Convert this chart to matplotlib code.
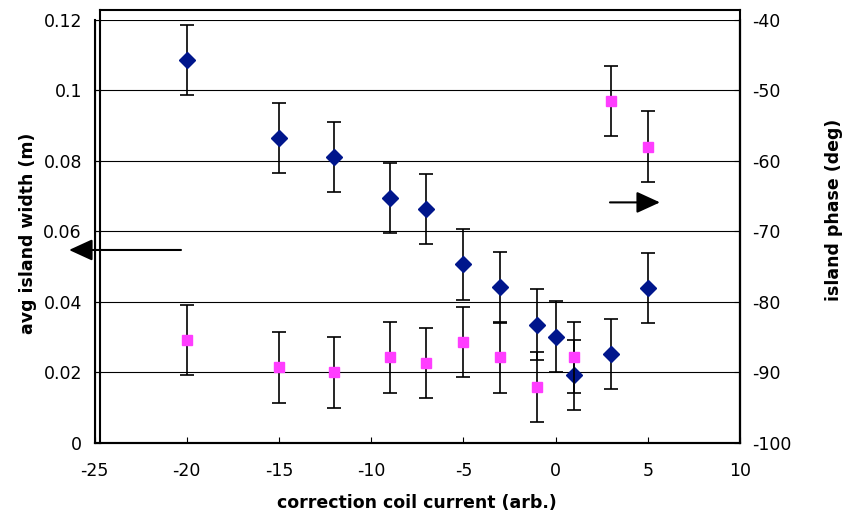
import matplotlib
matplotlib.use('Agg')
import matplotlib.pyplot as plt
from matplotlib.lines import Line2D

# coil current settings (arb.)
current_w = [-20, -15, -12, -9, -7, -5, -3, -1, 0, 1, 3, 5]
width_m = [0.1086, 0.0864, 0.0811, 0.0694, 0.0663, 0.0506, 0.0441, 0.0335, 0.0301, 0.0192, 0.0252, 0.0439]
width_err = [0.01] * len(width_m)

current_p = [-20, -15, -12, -9, -7, -5, -3, -1, 1, 3, 5]
phase_deg = [-85.4, -89.3, -90.0, -87.9, -88.7, -85.7, -87.9, -92.1, -87.9, -51.5, -58.0]
phase_err = [5] * len(phase_deg)

left_ticks = [0, 0.02, 0.04, 0.06, 0.08, 0.1, 0.12]
right_ticks = [-100, -90, -80, -70, -60, -50, -40]
x_ticks = [-25, -20, -15, -10, -5, 0, 5, 10]

navy = '#00168C'
pink = '#FF3DFF'

plt.rcParams['font.family'] = 'DejaVu Sans'

fig = plt.figure(figsize=(8.51, 5.17), dpi=100)
W, H = 851, 517
x0, x1, y0, y1 = 94.5, 740, 19.8, 442.8
ax = fig.add_axes([x0 / W, 1 - y1 / H, (x1 - x0) / W, (y1 - y0) / H])
ax2 = ax.twinx()

for y in left_ticks[1:]:
    ax.axhline(y, color='black', lw=0.8, zorder=0)

ax.errorbar(current_w, width_m, yerr=width_err, fmt='D', ms=8.5, color=navy,
            mec=navy, ecolor='black', elinewidth=1.2, capsize=5, capthick=1.2, zorder=3)
ax2.errorbar(current_p, phase_deg, yerr=phase_err, fmt='s', ms=7, color=pink,
             mec=pink, ecolor='black', elinewidth=1.2, capsize=5, capthick=1.2, zorder=3)

ax.set_xlim(-25, 10)
ax.set_ylim(0, 0.12)
ax2.set_ylim(-100, -40)
ax.set_xticks(x_ticks)
ax.set_xticklabels([str(v) for v in x_ticks])
ax.set_yticks(left_ticks)
ax.set_yticklabels([f'{v:g}' for v in left_ticks])
ax2.set_yticks(right_ticks)
ax2.set_yticklabels([str(v) for v in right_ticks])

for a in (ax, ax2):
    a.tick_params(direction='in', length=4, width=0.8, labelsize=12.5, pad=9)
    for s in a.spines.values():
        s.set_linewidth(1.5)
    a.spines['top'].set_visible(False)
ax.spines['left'].set_linewidth(0.8)
ax.tick_params(axis='x', pad=14)

ax.set_xlabel('correction coil current (arb.)', fontsize=12.5, fontweight='bold', va='center')
ax.xaxis.set_label_coords(0.5, (y1 - 503) / (y1 - y0))
ax.set_ylabel('avg island width (m)', fontsize=12.5, fontweight='bold', va='center', ha='center')
ax.yaxis.set_label_coords((28 - x0) / (x1 - x0), (y1 - 233) / (y1 - y0))
ax2.set_ylabel('island phase (deg)', fontsize=12.5, fontweight='bold', rotation=90,
               va='center', ha='center')
ax2.yaxis.set_label_coords((834 - x0) / (x1 - x0), (y1 - 210) / (y1 - y0))

# outer plot-area frame (offset from the value axis)
fx0, fy_top = 100 / W, 1 - 10 / H
fig.add_artist(Line2D([fx0, fx0], [1 - y1 / H, fy_top], color='black', lw=1.5))
fig.add_artist(Line2D([fx0, x1 / W], [fy_top, fy_top], color='black', lw=1.5))
fig.add_artist(Line2D([x1 / W, x1 / W], [1 - y1 / H, fy_top], color='black', lw=1.5))

# arrows pointing to the axis each series belongs to
arrow_style = dict(arrowstyle='-|>,head_length=0.72,head_width=0.33', mutation_scale=20,
                   color='black', lw=1.5, shrinkA=0, shrinkB=0)
ax.annotate('', xy=(-26.38, 0.0547), xytext=(-20.31, 0.0547),
            arrowprops=arrow_style, annotation_clip=False)
ax.annotate('', xy=(5.66, 0.0682), xytext=(2.95, 0.0682),
            arrowprops=arrow_style, annotation_clip=False)

fig.savefig('out.png', dpi=100)
